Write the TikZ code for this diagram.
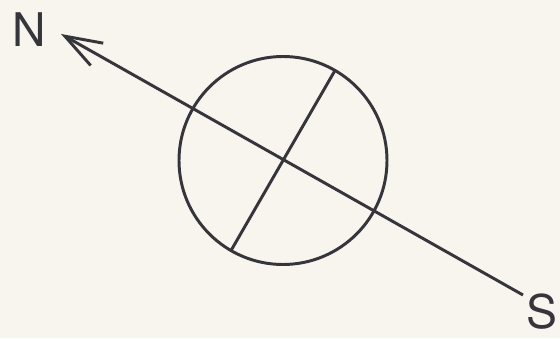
\documentclass[tikz,border=0pt]{standalone}
\usepackage{fontspec}
\setsansfont{TeX Gyre Heros}
\usetikzlibrary{arrows.meta}
\definecolor{paper}{HTML}{F8F5EF}
\definecolor{ink}{HTML}{35353B}

\begin{document}
\begin{tikzpicture}[line width=2.1pt, draw=ink,
    pole/.style={text=ink, inner sep=0pt, font=\sffamily\fontsize{33}{40}\selectfont}]
    \fill[paper] (0,0) rectangle (14,8.45);
    \useasboundingbox (0,0) rectangle (14,8.45);
    \coordinate (c) at (7.075,4.4375);
    \coordinate (n) at (1.525,7.6);
    \coordinate (s) at (13.075,1.075);
    \node[pole] (nlabel) at (0.725,7.7) {N};
    \node[pole] (slabel) at (13.55,0.66) {S};
    \draw[ink] (c) circle (2.6);
    \draw[ink] (c) ++(60:2.6) -- ++(240:5.2);
    \draw[ink, -{Straight Barb[length=0.92cm, width=0.64cm]}] (s) -- (n);
\end{tikzpicture}
\end{document}
